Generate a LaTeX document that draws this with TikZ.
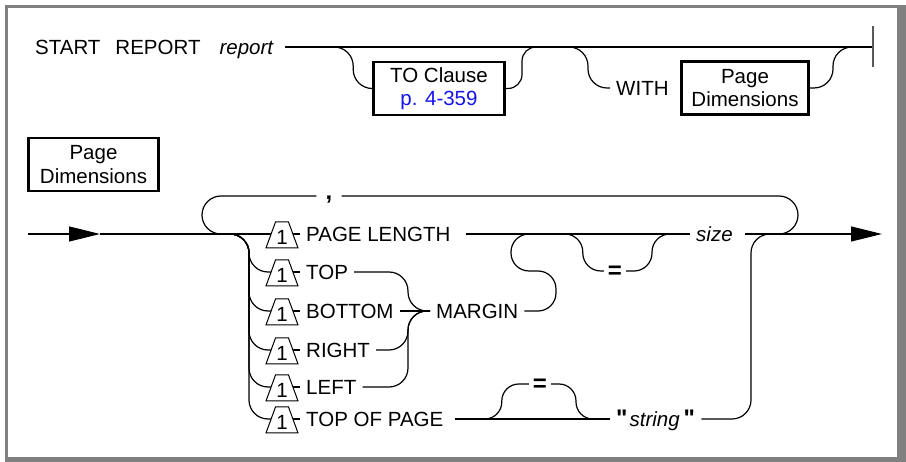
\documentclass[tikz,border=0pt]{standalone}
\usepackage{fontspec}
\setmainfont{Liberation Sans}
\newfontfamily\quotefont{Liberation Sans}
\usetikzlibrary{arrows.meta, positioning}
\definecolor{framegray}{RGB}{128,128,128}
\definecolor{linkblue}{RGB}{20,20,235}
\newcommand{\bq}{{\quotefont\bfseries\fontsize{24}{24}\selectfont"}}

\begin{document}
\begin{tikzpicture}[
    x=1pt, y=-1pt,
    rail/.style={line width=1.2pt, rounded corners=19pt},
    kw/.style={font=\fontsize{20.5}{22}\selectfont, text height=15pt, text depth=0pt,
        inner ysep=0pt, inner xsep=6pt, anchor=west},
    sym/.style={font=\bfseries\fontsize{24}{24}\selectfont, text height=16pt, text depth=0pt,
        inner ysep=0pt, inner xsep=4pt},
    refbox/.style={draw, line width=2.6pt, align=center, minimum height=53pt,
        inner sep=0pt, font=\fontsize{20.5}{23.5}\selectfont},
    flowtip/.style={-{Triangle[length=31pt,width=15pt]}},
    endbar/.style={line width=1.6pt, draw=black!65},
    onebox/.pic={
        \draw[line width=1pt] (-16,13) -- (-6.5,-13) -- (6.5,-13) -- (16,13) -- cycle;
        \node[font=\fontsize{20.5}{22}\selectfont, inner sep=0pt] (-num) at (0,2) {1};
        \coordinate (-w) at (-11,-1);
        \coordinate (-e) at (11,-1);
    }
]
% frame
\useasboundingbox (0,0) rectangle (906,462);
\fill[framegray] (5,5) rectangle (906,462);
\fill[white] (8,8) rectangle (897,457);

% START REPORT
\node[kw] (start) at (29,47) {START\hspace{15pt}REPORT\hspace{19pt}\textit{report}};
\coordinate (stop) at (873,47);
\draw[rail] ([xshift=5pt]start.east) -- (stop);
\draw[endbar] (873,26) -- (873,67);

\node[refbox, minimum width=131pt] (toclause) at (439,88.5) {TO Clause\\\textcolor{linkblue}{p. 4-359}};
\coordinate (tofork) at (330,47);
\coordinate (tojoin) at (542,47);
\draw[rail] (tofork) -| ([xshift=-19pt]toclause.west) -- (toclause.west);
\draw[rail, rounded corners=14pt] (toclause.east) -| ([xshift=-20pt]tojoin) -- (tojoin);

\node[kw] (with) at (610,88) {WITH};
\node[refbox, minimum width=127pt] (pdbox) at (745,88) {Page\\Dimensions};
\coordinate (withfork) at (565,47);
\coordinate (withjoin) at (857,47);
\draw[rail] (withfork) -| ([xshift=-22pt]with.west) -- (with.west);
\draw[rail] (pdbox.east) -| ([xshift=-24pt]withjoin) -- (withjoin);

% Page Dimensions
\node[refbox, minimum width=130pt] (pdlabel) at (93.5,164.5) {Page\\Dimensions};

\coordinate (pdstart) at (28,234);
\coordinate (pdarrow) at (100,234);
\coordinate (pdfork) at (213,234);
\coordinate (pdend) at (882,234);
\draw[rail, flowtip] (pdstart) -- (pdarrow);

\pic (t1) at (282,235) {onebox};
\pic (t2) at (282,273) {onebox};
\pic (t3) at (282,312) {onebox};
\pic (t4) at (282,351) {onebox};
\pic (t5) at (282,388) {onebox};
\pic (t6) at (282,420) {onebox};

\node[kw] (plen) at (300,234) {PAGE LENGTH};
\node[kw] (ptop) at (300,272) {TOP};
\node[kw] (pbot) at (300,311) {BOTTOM};
\node[kw] (pright) at (300,350) {RIGHT};
\node[kw] (pleft) at (300,387) {LEFT};
\node[kw] (ptopp) at (300,419) {TOP OF PAGE};

\draw[rail] (pdarrow) -- (t1-w);
\draw[rail] (pdfork) -| ([xshift=-22pt]t2-w) -- (t2-w);
\draw[rail] (pdfork) -| ([xshift=-22pt]t3-w) -- (t3-w);
\draw[rail] (pdfork) -| ([xshift=-22pt]t4-w) -- (t4-w);
\draw[rail] (pdfork) -| ([xshift=-22pt]t5-w) -- (t5-w);
\draw[rail] (pdfork) -| ([xshift=-22pt]t6-w) -- (t6-w);
\draw[rail] (t1-e) -- (plen.west);
\draw[rail] (t2-e) -- (ptop.west);
\draw[rail] (t3-e) -- (pbot.west);
\draw[rail] (t4-e) -- (pright.west);
\draw[rail] (t5-e) -- (pleft.west);
\draw[rail] (t6-e) -- (ptopp.west);

% repeat loop
\node[sym, text height=7pt, inner xsep=9pt] (comma) at (329,196) {,};
\draw[rail] (comma.west) -- (202,196) -- (202,234) -- (235,234);
\draw[rail] (comma.east) -- (798,196) -- (798,234) -- (765,234);

% MARGIN
\node[kw] (margin) at (430,311) {MARGIN};
\draw[rail] (ptop.east) -| ([xshift=-22pt]margin.west) -- (margin.west);
\draw[rail] (pbot.east) -- (margin.west);
\draw[rail] (pright.east) -| ([xshift=-22pt]margin.west) -- (margin.west);
\draw[rail] (pleft.east) -| ([xshift=-22pt]margin.west) -- (margin.west);
\coordinate (marginjoin) at (540,234);
\draw[rail, rounded corners=18pt] (margin.east) -- (556,311) -- (556,271) -- (511,271) -- (511,234) -- (marginjoin);

% optional = and size
\node[sym] (eqone) at (615,271) {=};
\node[kw] (size) at (690,234) {\itshape size};
\coordinate (eqfork) at (562,234);
\coordinate (eqjoin) at (672,234);
\draw[rail] ([xshift=9pt]plen.east) -- (size.west);
\draw[rail, rounded corners=18pt] (eqfork) -| ([xshift=-21pt]eqone.west) -- (eqone.west);
\draw[rail, rounded corners=18pt] (eqone.east) -| ([xshift=-20pt]eqjoin) -- (eqjoin);
\draw[rail, flowtip] ([xshift=6pt]size.east) -- (pdend);

% TOP OF PAGE
\node[kw] (string) at (610,419) {\bq\hspace{2pt}\textit{string}\hspace{4pt}\bq};
\node[sym] (eqtwo) at (540,384) {=};
\coordinate (eqtwofork) at (478,419);
\coordinate (eqtwojoin) at (598,419);
\coordinate (stringjoin) at (770,234);
\draw[rail] ([xshift=6pt]ptopp.east) -- (string.west);
\draw[rail, rounded corners=17pt] (eqtwofork) -| ([xshift=-27pt]eqtwo.west) -- (eqtwo.west);
\draw[rail, rounded corners=17pt] (eqtwo.east) -| ([xshift=-22pt]eqtwojoin) -- (eqtwojoin);
\draw[rail] (string.east) -| ([xshift=-19pt]stringjoin) -- (stringjoin);
\end{tikzpicture}
\end{document}
